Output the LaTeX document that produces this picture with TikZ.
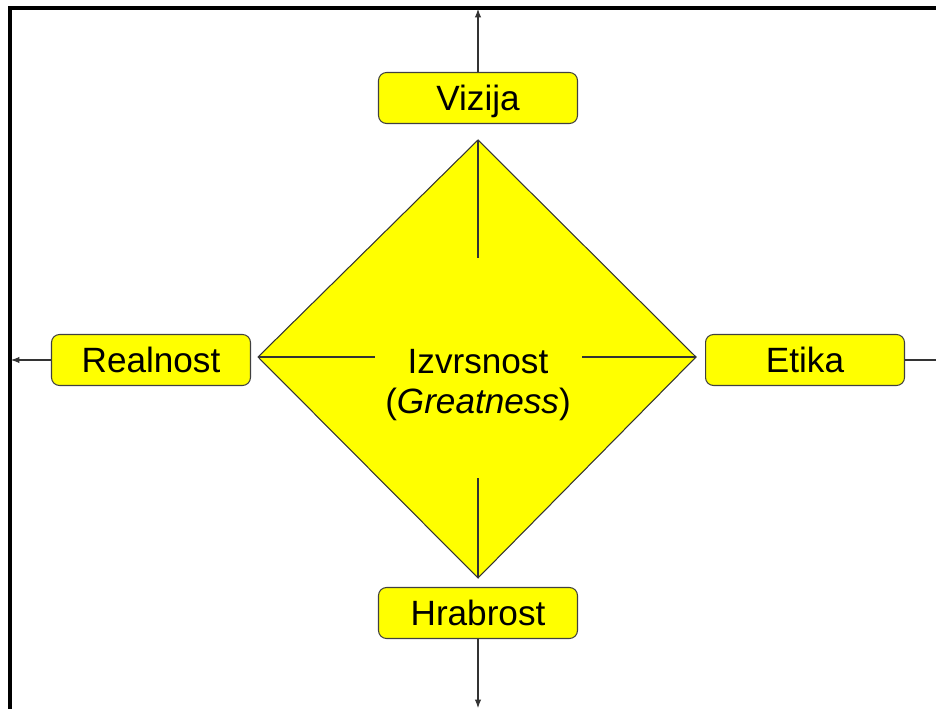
\documentclass[tikz,border=0pt]{standalone}
\usepackage{fontspec}
\setmainfont{Liberation Sans}
\usetikzlibrary{arrows.meta}
\definecolor{pillarfill}{RGB}{255,255,0}
\begin{document}
\begin{tikzpicture}[
        x=0.02cm, y=-0.02cm,
        >={Latex[length=1.7mm, width=1.3mm]},
        pillar/.style={draw=black!75, line width=0.6pt, fill=pillarfill, rounded corners=0.16cm,
            minimum width=3.98cm, minimum height=1.02cm, text depth=0pt,
            font=\fontsize{20}{24}\selectfont},
        axis/.style={draw=black!80, line width=0.6pt},
        frame/.style={draw=black, line width=2.2pt}
    ]
        \useasboundingbox (0,0) rectangle (936,709);

        % Khung
        \draw[frame] (10,712) -- (10,8) -- (940,8);

        % Hinh thoi
        \coordinate (dtop) at (478,140);
        \coordinate (dright) at (696,357);
        \coordinate (dbottom) at (478,578);
        \coordinate (dleft) at (258,357);
        \fill[pillarfill, draw=black!80, line width=0.6pt] (dtop) -- (dright) -- (dbottom) -- (dleft) -- cycle;
        \node[font=\fontsize{20}{23}\selectfont, align=center] (core) at (478,385)
            {Izvrsnost\\(\textit{Greatness})};

        % Cac duong ben trong
        \coordinate (itop) at (478,258);
        \coordinate (ibottom) at (478,478);
        \coordinate (ileft) at (375,357);
        \coordinate (iright) at (582,357);
        \draw[axis] (dtop) -- (itop);
        \draw[axis] (dbottom) -- (ibottom);
        \draw[axis] (dleft) -- (ileft);
        \draw[axis] (dright) -- (iright);

        % Bon gia tri
        \node[pillar] (vizija) at (478,98) {Vizija};
        \node[pillar] (realnost) at (151,360) {Realnost};
        \node[pillar] (etika) at (805,360) {Etika};
        \node[pillar] (hrabrost) at (478,613) {Hrabrost};

        % Mui ten ra khung
        \coordinate (ftop) at (478,9);
        \coordinate (fleft) at (11,360);
        \coordinate (fright) at (936,360);
        \coordinate (fbottom) at (478,708);
        \draw[axis, ->] (vizija) -- (ftop);
        \draw[axis, ->] (realnost) -- (fleft);
        \draw[axis] (etika) -- (fright);
        \draw[axis, ->] (hrabrost) -- (fbottom);
    \end{tikzpicture}
\end{document}
